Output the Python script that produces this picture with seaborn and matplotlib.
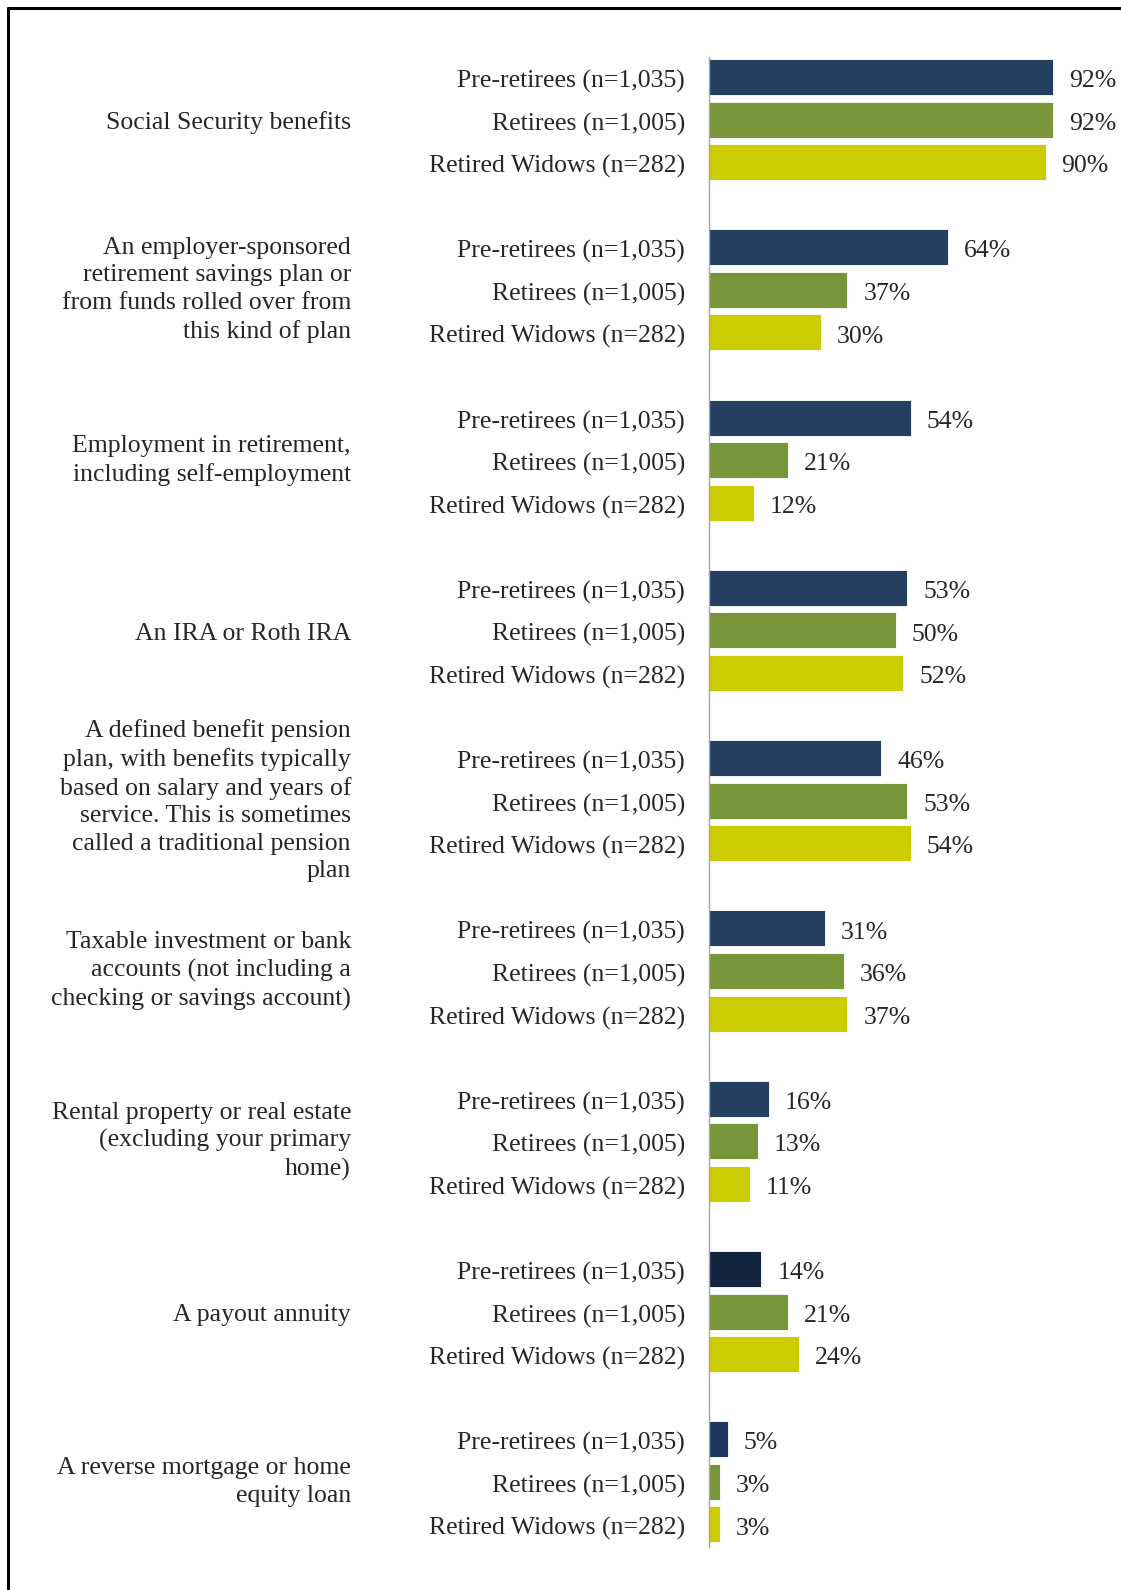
import pandas as pd
import matplotlib.pyplot as plt
import matplotlib.transforms as mtrans
from matplotlib.lines import Line2D
import seaborn as sns

# ─── Data ─────────────────────────────────────────────────────────────────────
CATEGORIES = [
    "Social Security benefits",
    "An employer-sponsored\nretirement savings plan or\nfrom funds rolled over from\nthis kind of plan",
    "Employment in retirement,\nincluding self-employment",
    "An IRA or Roth IRA",
    "A defined benefit pension\nplan, with benefits typically\nbased on salary and years of\nservice. This is sometimes\ncalled a traditional pension\nplan",
    "Taxable investment or bank\naccounts (not including a\nchecking or savings account)",
    "Rental property or real estate\n(excluding your primary\nhome)",
    "A payout annuity",
    "A reverse mortgage or home\nequity loan",
]
GROUPS = ["Pre-retirees (n=1,035)", "Retirees (n=1,005)", "Retired Widows (n=282)"]
PRE_RETIREES = [92, 64, 54, 53, 46, 31, 16, 14, 5]
RETIREES = [92, 37, 21, 50, 53, 36, 13, 21, 3]
RETIRED_WIDOWS = [90, 30, 12, 52, 54, 37, 11, 24, 3]

NAVY = ["#253f60", "#253f60", "#253f60", "#253f60", "#253f60",
        "#253f60", "#253f60", "#14263f", "#1b365d"]
GREEN = "#779539"
YELLOW = "#cccc00"

# ─── Build table ──────────────────────────────────────────────────────────────
rows = []
for i in range(len(CATEGORIES)):
    series = [PRE_RETIREES[i], RETIREES[i], RETIRED_WIDOWS[i]]
    colors = [NAVY[i], GREEN, YELLOW]
    for j in range(3):
        rows.append({"pos": 4 * i + j, "value": series[j], "group": GROUPS[j],
                     "row": f"{i}-{j}", "color": colors[j]})
df = pd.DataFrame(rows)

# ─── Plot ─────────────────────────────────────────────────────────────────────
sns.set_theme(style="white")
plt.rcParams["font.family"] = ["Liberation Serif", "DejaVu Serif"]
FS = 18.5

W, H = 1121, 1590
fig = plt.figure(figsize=(W / 100, H / 100), dpi=100)
ax = fig.add_axes([709 / W, 1 - 1547 / H, 374 / W, (1547 - 57) / H])

sns.barplot(data=df, x="value", y="pos", hue="row", palette=list(df["color"]),
            orient="h", native_scale=True, dodge=False, width=0.845,
            saturation=1, legend=False, edgecolor="white", linewidth=0.6, ax=ax)

ax.set_xlim(0, 100)
ax.set_ylim(34.53, -0.47)
ax.set_xticks([])
ax.set_yticks(df["pos"] + 0.04)
ax.set_yticklabels(df["group"], fontsize=FS)
ax.tick_params(axis="y", length=0, pad=17.3)
ax.set_xlabel("")
ax.set_ylabel("")
for side in ["top", "right", "bottom"]:
    ax.spines[side].set_visible(False)
ax.spines["left"].set_color("#a6a6a6")
ax.spines["left"].set_linewidth(1.0)

# value labels
for _, r in df.iterrows():
    ax.annotate(f"{r['value']}%", xy=(r["value"], r["pos"] + 0.04), xytext=(11.5, 0),
                textcoords="offset points", ha="left", va="center_baseline",
                fontsize=FS, annotation_clip=False)

# category labels
trans = mtrans.blended_transform_factory(fig.transFigure, ax.transData)
for i, cat in enumerate(CATEGORIES):
    y = 4 * i + (1.0 if "\n" in cat else 1.08)
    ax.text(351 / W, y, cat, transform=trans, ha="right", va="center",
            multialignment="right", fontsize=FS, linespacing=1.32, clip_on=False)

# frame (left and top only visible)
fig.add_artist(Line2D([8 / W, 8 / W], [0, 1 - 8 / H], color="black", lw=2.2,
                      transform=fig.transFigure))
fig.add_artist(Line2D([8 / W, 1], [1 - 8 / H, 1 - 8 / H], color="black", lw=2.2,
                      transform=fig.transFigure))

plt.savefig("out.png", dpi=100)
plt.close()
